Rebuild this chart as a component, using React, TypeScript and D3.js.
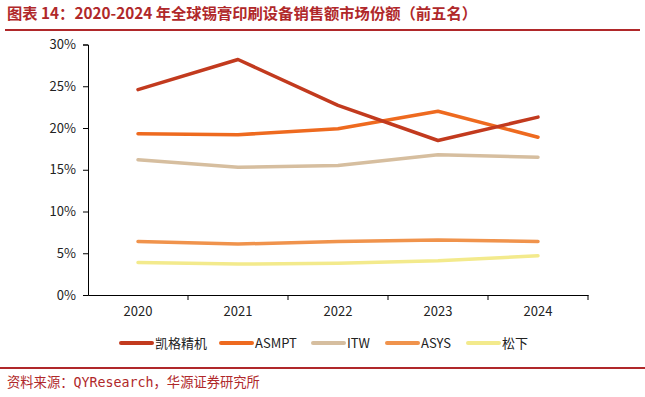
import React, { useRef, useEffect } from "react";
import * as d3 from "d3";

const years = ["2020", "2021", "2022", "2023", "2024"];
const seriesNames = ["凯格精机", "ASMPT", "ITW", "ASYS", "松下"];
const kaige = [0.246, 0.282, 0.227, 0.185, 0.213];
const asmpt = [0.193, 0.192, 0.199, 0.22, 0.189];
const itw = [0.162, 0.153, 0.155, 0.168, 0.165];
const asys = [0.064, 0.061, 0.064, 0.066, 0.064];
const songxia = [0.039, 0.037, 0.038, 0.041, 0.047];
const yTicks = [0, 0.05, 0.1, 0.15, 0.2, 0.25, 0.3];
const colors = ["#C23A1E", "#EE6A1F", "#D6BE9F", "#F0934C", "#F3EA8C"];

const W = 645;
const H = 397;

export default function App() {
  const ref = useRef<SVGSVGElement>(null);

  useEffect(() => {
    const svg = d3.select(ref.current);
    svg.selectAll("*").remove();

    const font = "'Microsoft YaHei', 'Noto Sans CJK SC', 'Noto Sans', sans-serif";

    // title
    svg
      .append("text")
      .attr("x", 7)
      .attr("y", 19)
      .attr("fill", "#B0282A")
      .attr("font-family", font)
      .attr("font-size", 15.3)
      .attr("font-weight", "bold")
      .text("图表 14：2020-2024 年全球锡膏印刷设备销售额市场份额（前五名）");
    svg.append("rect").attr("x", 5).attr("y", 29).attr("width", 635).attr("height", 2).attr("fill", "#B0282A");

    const x = d3.scaleBand().domain(years).range([88, 588]);
    const y = d3.scaleLinear().domain([0, 0.3]).range([295, 44.5]);

    // y axis
    const yAxis = svg.append("g").attr("transform", "translate(88,0)");
    yAxis
      .call(d3.axisLeft(y).tickValues(yTicks).tickSize(5).tickFormat((d) => `${Math.round(+d * 100)}%`))
      .call((g) => g.select(".domain").attr("stroke", "#000"));
    yAxis.selectAll("text").attr("font-family", font).attr("font-size", 13).attr("fill", "#222").attr("dx", -4);
    yAxis.selectAll("line").attr("stroke", "#000");

    // x axis
    const xAxis = svg.append("g").attr("transform", "translate(0,295)");
    xAxis.call(d3.axisBottom(x).tickSize(0).tickPadding(12));
    xAxis.select(".domain").attr("stroke", "#000");
    xAxis.selectAll("text").attr("font-family", font).attr("font-size", 13).attr("fill", "#222");
    xAxis
      .selectAll(".tk")
      .data(years)
      .enter()
      .append("line")
      .attr("x1", (d) => (x(d) as number) + x.bandwidth())
      .attr("x2", (d) => (x(d) as number) + x.bandwidth())
      .attr("y1", 0)
      .attr("y2", 5)
      .attr("stroke", "#000");

    const all = [kaige, asmpt, itw, asys, songxia];
    const line = d3
      .line<number>()
      .x((_, i) => (x(years[i]) as number) + x.bandwidth() / 2)
      .y((d) => y(d));

    // draw bottom series first so 凯格精机 ends on top
    [4, 3, 2, 1, 0].forEach((k) => {
      svg
        .append("path")
        .datum(all[k])
        .attr("d", line)
        .attr("fill", "none")
        .attr("stroke", colors[k])
        .attr("stroke-width", 3.5)
        .attr("stroke-linejoin", "round")
        .attr("stroke-linecap", "round");
    });

    // legend
    const legendX = [121, 221, 313, 387, 468];
    const lg = svg.append("g").attr("transform", "translate(0,343)");
    seriesNames.forEach((name, k) => {
      lg.append("line")
        .attr("x1", legendX[k])
        .attr("x2", legendX[k] + 31)
        .attr("stroke", colors[k])
        .attr("stroke-width", 4)
        .attr("stroke-linecap", "round");
      lg.append("text")
        .attr("x", legendX[k] + 34)
        .attr("dy", "0.35em")
        .attr("font-family", font)
        .attr("font-size", 13)
        .attr("fill", "#222")
        .text(name);
    });

    // source
    svg.append("rect").attr("x", 0).attr("y", 367).attr("width", 645).attr("height", 2).attr("fill", "#B0282A");
    svg
      .append("text")
      .attr("x", 7)
      .attr("y", 387)
      .attr("fill", "#B0282A")
      .attr("font-family", "'DejaVu Sans Mono', 'Noto Sans CJK SC', monospace")
      .attr("font-size", 13.3)
      .text("资料来源：QYResearch，华源证券研究所");
  }, []);

  return (
    <svg
      ref={ref}
      width={W}
      height={H}
      style={{ position: "absolute", left: 0, top: 0, background: "#fff" }}
    />
  );
}
